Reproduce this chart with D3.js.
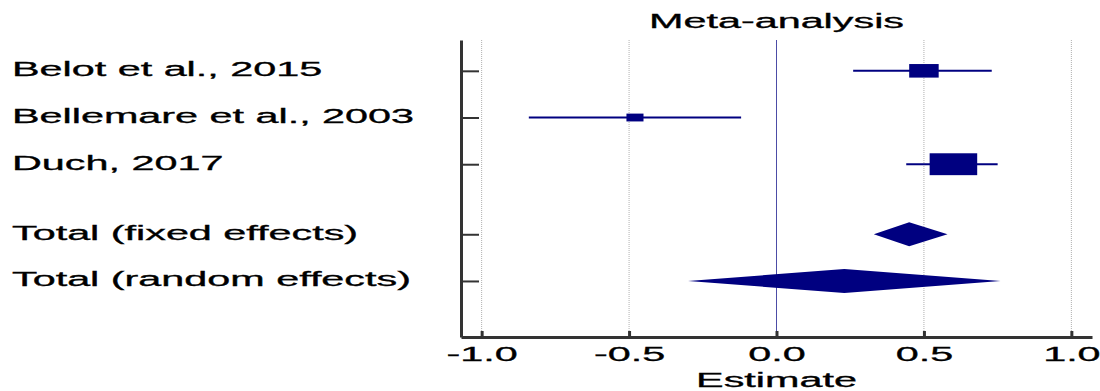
<!DOCTYPE html>
<html>
<head>
<meta charset="utf-8">
<script src="https://cdn.jsdelivr.net/npm/d3@7"></script>
<style>
  body { margin: 0; background: #fff; }
  svg text { font-family: "Liberation Sans", Arial, sans-serif; fill: #000; }
</style>
</head>
<body>
<svg id="forest"></svg>
<script>
// data
const studies = ["Belot et al., 2015", "Bellemare et al., 2003", "Duch, 2017"];
const studyEst = [0.50, -0.48, 0.60];
const studyLow = [0.26, -0.84, 0.44];
const studyHigh = [0.73, -0.12, 0.75];
const studyWeight = [25.4, 8.5, 66.1];

const totals = ["Total (fixed effects)", "Total (random effects)"];
const totalEst = [0.45, 0.23];
const totalLow = [0.33, -0.30];
const totalHigh = [0.58, 0.76];

const xTicks = [-1.0, -0.5, 0.0, 0.5, 1.0];
const rowPos = [0, 1, 2, 3.5, 4.5];

const width = 1100, height = 391;
const stretch = 2.12;   // text in the original is drawn wide
const fontSize = 19.5;
const navy = "#000080";

const svg = d3.select("#forest")
              .attr("width", width)
              .attr("height", height);

const x = d3.scaleLinear().domain([-1.07, 1.07]).range([461, 1092]);
const y = d3.scaleLinear().domain([-0.66, 5.7]).range([40, 337]);
const boxW = d3.scaleSqrt().domain([0, 100]).range([0, 58.5]);

// grid
svg.append("g")
   .selectAll("line")
   .data(xTicks.filter(d => d !== 0))
   .enter()
   .append("line")
   .attr("x1", d => x(d)).attr("x2", d => x(d))
   .attr("y1", y.range()[0]).attr("y2", y.range()[1])
   .attr("stroke", "#b0b0b0")
   .attr("stroke-dasharray", "1,1");

svg.append("line")
   .attr("x1", x(0)).attr("x2", x(0))
   .attr("y1", y.range()[0]).attr("y2", y.range()[1])
   .attr("stroke", navy)
   .attr("stroke-opacity", 0.7);

// bottom axis
const xAxis = svg.append("g")
                 .attr("transform", "translate(0," + y.range()[1] + ")")
                 .call(d3.axisBottom(x)
                         .tickValues(xTicks)
                         .tickFormat(d => d.toFixed(1))
                         .tickSize(-6)
                         .tickSizeOuter(0)
                         .tickPadding(10));
xAxis.select(".domain").attr("stroke", "#333").attr("stroke-width", 3);
xAxis.selectAll(".tick line").attr("stroke", "#333").attr("stroke-width", 3);
xAxis.selectAll(".tick text")
     .attr("font-size", fontSize)
     .attr("font-family", "Liberation Sans, Arial, sans-serif")
     .attr("fill", "#000")
     .attr("stroke", "#000")
     .attr("stroke-width", 0.3)
     .attr("transform", "scale(" + stretch + ",1)");

// left axis
const yAxis = svg.append("g")
                 .attr("transform", "translate(" + x.range()[0] + ",0)")
                 .call(d3.axisLeft(y)
                         .tickValues(rowPos)
                         .tickFormat("")
                         .tickSize(-18)
                         .tickSizeOuter(0));
yAxis.select(".domain").attr("stroke", "#333").attr("stroke-width", 3);
yAxis.selectAll(".tick line").attr("stroke", "#333").attr("stroke-width", 2);

// row labels
svg.append("g")
   .selectAll("text")
   .data(studies.concat(totals))
   .enter()
   .append("text")
   .attr("transform", (d, i) => "translate(12," + (y(rowPos[i]) + 5.5) + ") scale(" + stretch + ",1)")
   .attr("font-size", fontSize)
   .attr("stroke", "#000")
   .attr("stroke-width", 0.3)
   .text(d => d);

// studies: CI line + weighted box
const rows = svg.append("g");
rows.selectAll("line")
    .data(studies)
    .enter()
    .append("line")
    .attr("x1", (d, i) => x(studyLow[i]))
    .attr("x2", (d, i) => x(studyHigh[i]))
    .attr("y1", (d, i) => y(rowPos[i]))
    .attr("y2", (d, i) => y(rowPos[i]))
    .attr("stroke", navy)
    .attr("stroke-width", 2);

rows.selectAll("rect")
    .data(studies)
    .enter()
    .append("rect")
    .attr("x", (d, i) => x(studyEst[i]) - boxW(studyWeight[i]) / 2)
    .attr("y", (d, i) => y(rowPos[i]) - boxW(studyWeight[i]) * 0.23)
    .attr("width", (d, i) => boxW(studyWeight[i]))
    .attr("height", (d, i) => boxW(studyWeight[i]) * 0.46)
    .attr("fill", navy);

// pooled diamonds
svg.append("g")
   .selectAll("path")
   .data(totals)
   .enter()
   .append("path")
   .attr("d", (d, i) => {
     const cy = y(rowPos[3 + i]);
     return "M" + x(totalLow[i]) + "," + cy +
            "L" + x(totalEst[i]) + "," + (cy - 12) +
            "L" + x(totalHigh[i]) + "," + cy +
            "L" + x(totalEst[i]) + "," + (cy + 12) + "Z";
   })
   .attr("fill", navy);

// titles
const midX = (x.range()[0] + x.range()[1]) / 2;
svg.append("text")
   .attr("transform", "translate(" + midX + ",28) scale(" + stretch + ",1)")
   .attr("text-anchor", "middle")
   .attr("font-size", fontSize)
   .attr("stroke", "#000")
   .attr("stroke-width", 0.3)
   .text("Meta-analysis");

svg.append("text")
   .attr("transform", "translate(" + midX + ",387) scale(" + stretch + ",1)")
   .attr("text-anchor", "middle")
   .attr("font-size", fontSize)
   .attr("stroke", "#000")
   .attr("stroke-width", 0.3)
   .text("Estimate");
</script>
</body>
</html>
